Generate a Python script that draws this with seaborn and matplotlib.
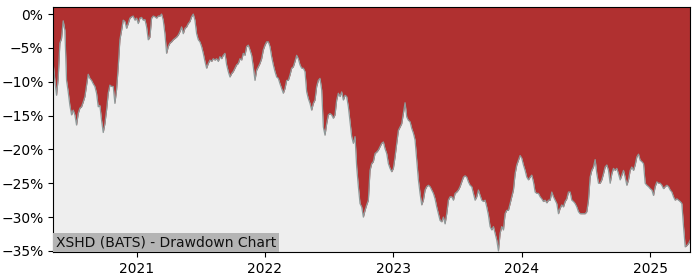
import matplotlib
matplotlib.use("Agg")
import matplotlib.pyplot as plt
import matplotlib.dates as mdates
from matplotlib.ticker import PercentFormatter, MultipleLocator
import numpy as np
import pandas as pd
import seaborn as sns

title_text = "XSHD (BATS) - Drawdown Chart"
start_date = "2020-05-09"
end_date = "2025-04-24"

# drawdown in percent, sampled roughly every 4.7 days
drawdown = [
    -7.3, -9.8, -12.0, -9.5, -4.3, -3.6, -1.0, -2.4, -9.8, -11.5,
    -13.5, -14.9, -14.2, -14.9, -16.4, -14.7, -13.9, -13.7, -13.0, -12.2,
    -10.5, -8.9, -9.5, -9.8, -10.3, -10.7, -11.7, -13.7, -13.5, -15.7,
    -17.5, -16.2, -14.2, -11.7, -10.5, -10.7, -10.7, -13.2, -11.2, -7.8,
    -3.8, -2.4, -0.9, -1.1, -2.1, -1.4, -0.6, -0.4, -0.3, -0.9,
    -0.6, -1.4, -0.6, -0.5, -0.9, -0.8, -1.9, -3.8, -3.4, -0.6,
    -0.3, -0.4, -0.6, -0.3, -0.3, 0.0, -0.9, -2.9, -5.8, -4.8,
    -4.3, -4.1, -3.8, -3.6, -3.4, -3.1, -2.6, -1.9, -2.9, -2.1,
    -1.9, -1.4, -1.1, -0.4, 0.0, -0.9, -2.9, -3.8, -4.1, -4.8,
    -5.8, -7.0, -8.0, -7.3, -6.8, -7.0, -6.6, -6.8, -6.6, -7.0,
    -6.3, -6.6, -6.1, -5.8, -7.5, -8.5, -9.3, -8.8, -8.5, -8.0,
    -7.5, -7.3, -6.6, -6.8, -5.8, -6.1, -4.8, -4.6, -5.3, -6.1,
    -7.8, -9.8, -8.3, -7.8, -7.3, -6.6, -5.3, -4.6, -4.1, -4.1,
    -4.8, -6.3, -7.5, -8.5, -9.3, -9.5, -10.3, -11.0, -11.7, -11.0,
    -9.8, -9.8, -9.0, -8.0, -7.8, -7.0, -6.1, -6.6, -7.5, -8.0,
    -8.0, -8.5, -11.5, -12.5, -13.2, -14.2, -13.2, -12.7, -10.7, -9.8,
    -9.5, -11.2, -16.7, -17.9, -16.2, -14.9, -14.7, -14.9, -15.4, -14.9,
    -12.7, -11.7, -12.2, -11.5, -12.7, -12.0, -12.2, -13.7, -15.9, -18.1,
    -19.1, -18.1, -22.6, -25.5, -28.0, -28.5, -30.0, -29.0, -28.2, -27.5,
    -23.1, -22.1, -21.8, -20.6, -20.4, -20.1, -19.6, -19.1, -18.9, -19.9,
    -20.6, -22.1, -22.8, -23.3, -22.8, -21.1, -19.1, -17.2, -16.7, -16.2,
    -14.7, -13.1, -15.2, -15.7, -15.9, -16.9, -17.6, -18.6, -21.6, -24.5,
    -26.5, -28.2, -27.5, -26.0, -25.5, -25.3, -25.5, -26.0, -26.5, -27.3,
    -28.5, -29.5, -30.5, -30.7, -30.0, -31.0, -29.5, -27.5, -27.0, -27.0,
    -27.5, -26.5, -26.3, -26.0, -25.5, -24.8, -24.1, -23.9, -24.1, -24.8,
    -25.3, -25.5, -26.5, -27.5, -27.0, -26.0, -26.8, -27.5, -27.7, -27.5,
    -28.5, -29.7, -31.4, -31.9, -31.4, -32.4, -33.4, -35.0, -32.4, -31.4,
    -31.9, -29.5, -29.0, -29.0, -28.0, -27.0, -26.0, -23.6, -22.3, -21.6,
    -20.9, -21.3, -22.3, -23.1, -24.1, -24.5, -24.1, -23.8, -24.8, -26.3,
    -26.5, -26.5, -27.0, -27.3, -27.7, -27.5, -27.9, -27.5, -27.5, -26.3,
    -27.0, -27.5, -28.0, -29.5, -28.7, -28.2, -28.5, -27.7, -27.3, -26.3,
    -26.3, -27.5, -27.7, -28.0, -28.5, -29.2, -29.5, -29.5, -29.5, -29.5,
    -29.2, -27.5, -24.1, -23.1, -22.6, -21.5, -23.6, -25.0, -25.0, -24.5,
    -23.6, -22.6, -22.3, -23.1, -25.0, -23.6, -22.8, -23.1, -22.8, -23.6,
    -24.5, -23.8, -23.1, -24.1, -25.3, -24.5, -23.1, -22.6, -23.1, -22.3,
    -21.1, -20.7, -21.6, -21.8, -22.1, -25.0, -25.3, -25.5, -25.8, -26.0,
    -26.8, -25.5, -24.8, -25.0, -25.0, -25.3, -25.8, -25.5, -25.3, -25.5,
    -26.0, -26.3, -27.0, -27.5, -27.3, -27.5, -27.7, -28.0, -31.4, -34.4,
    -34.2, -33.9, -33.4,
]

dates = pd.date_range(start_date, end_date, periods=len(drawdown))
df = pd.DataFrame({"date": dates, "drawdown": drawdown})

fig = plt.figure(figsize=(7, 2.8), dpi=100)
ax = fig.add_axes([0.076, 0.099, 0.910, 0.875])

y_bottom, y_top = -35.2, 1.0
ax.set_facecolor("#b03030")
ax.fill_between(df["date"], df["drawdown"], y_bottom - 5, color="#eeeeee", linewidth=0)
sns.lineplot(data=df, x="date", y="drawdown", ax=ax, color="#8f9a9a", linewidth=0.9)

ax.set_xlim(dates[0], dates[-1])
ax.set_ylim(y_bottom, y_top)
ax.yaxis.set_major_locator(MultipleLocator(5))
ax.yaxis.set_major_formatter(PercentFormatter(xmax=100, decimals=0))
ax.xaxis.set_major_locator(mdates.YearLocator())
ax.xaxis.set_major_formatter(mdates.DateFormatter("%Y"))
ax.set_xlabel("")
ax.set_ylabel("")
for s in ax.spines.values():
    s.set_color("black")

ax.text(0.0044, 0.012, title_text, transform=ax.transAxes, ha="left", va="bottom",
        fontsize=10, color="#111111",
        bbox=dict(boxstyle="square,pad=0.2", facecolor="#b4b4b4", edgecolor="none"))

fig.savefig("out.png", dpi=100)
